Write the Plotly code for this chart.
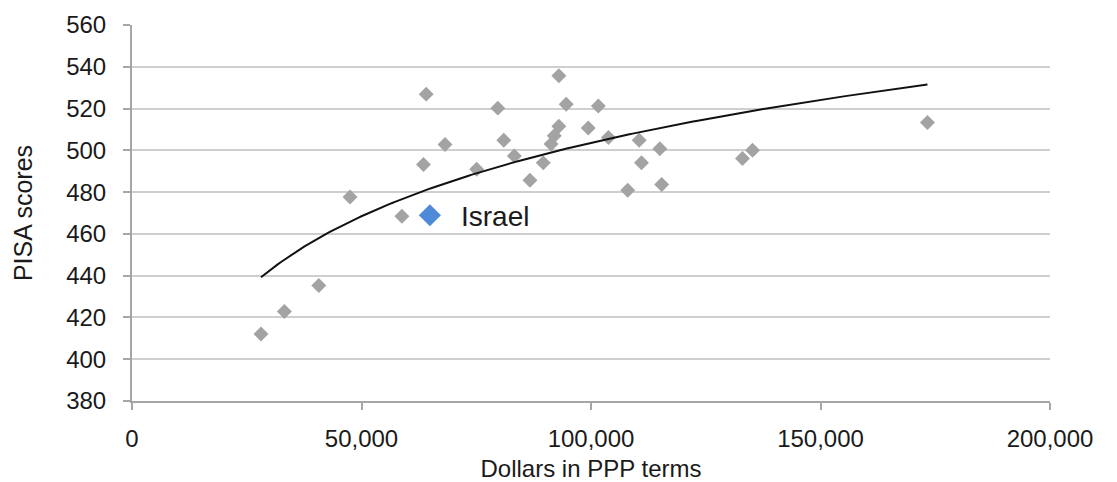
import numpy as np
import plotly.graph_objects as go

# Spending per student (PPP dollars) and PISA scores, OECD countries
spending = [28100, 33200, 40700, 47500, 58800, 63500, 64100, 68200, 75100,
            79700, 81000, 83300, 86700, 89600, 91300, 92000, 93000, 93000,
            94600, 99400, 101600, 103800, 108000, 110500, 111000, 115000,
            115400, 133000, 135200, 173300]
scores = [412.1, 422.8, 435.3, 477.7, 468.4, 493.2, 526.9, 502.8, 490.9,
          520.2, 504.8, 497.3, 485.7, 494.0, 503.0, 507.0, 511.5, 535.7,
          522.1, 510.7, 521.2, 506.1, 480.9, 504.8, 494.1, 500.8,
          483.6, 496.1, 500.0, 513.3]

israel_spending = [64900]
israel_score = [468.9]
israel_label = "Israel"

x_ticks = [0, 50000, 100000, 150000, 200000]
y_ticks = list(range(380, 561, 20))

# Logarithmic trend line fitted to the country data
xs = np.array(spending, dtype=float)
ys = np.array(scores, dtype=float)
b, a = np.polyfit(np.log(xs), ys, 1)
trend_x = np.linspace(xs.min(), xs.max(), 200)
trend_y = a + b * np.log(trend_x)

font_family = "Liberation Sans, Arial, sans-serif"

fig = go.Figure()
fig.add_trace(go.Scatter(
    x=spending, y=scores, mode="markers",
    marker=dict(symbol="diamond", size=11.5, color="#a3a3a3"),
    showlegend=False, hoverinfo="x+y"))
fig.add_trace(go.Scatter(
    x=trend_x, y=trend_y, mode="lines",
    line=dict(color="#111111", width=2),
    showlegend=False, hoverinfo="skip"))
fig.add_trace(go.Scatter(
    x=israel_spending, y=israel_score, mode="markers",
    marker=dict(symbol="diamond", size=17, color="#4f8ad8"),
    showlegend=False, hoverinfo="x+y"))

fig.add_annotation(
    x=israel_spending[0], y=israel_score[0], text=israel_label,
    showarrow=False, xanchor="left", yanchor="middle", xshift=29, yshift=-1,
    font=dict(family=font_family, size=28, color="#1a1a1a"))

fig.update_layout(
    width=1117, height=482,
    margin=dict(l=132, r=67, t=25, b=81),
    paper_bgcolor="white", plot_bgcolor="white",
    font=dict(family=font_family, size=24, color="#1a1a1a"),
    xaxis=dict(
        range=[0, 200000], tickvals=x_ticks, tickformat=",",
        automargin=False,
        showgrid=False, zeroline=False,
        showline=True, linecolor="#a6a6a6", linewidth=2,
        ticks="outside", ticklen=7, tickcolor="#a6a6a6", tickwidth=1.5,
        tickfont=dict(size=24), ticklabelstandoff=8,
        title=dict(text="Dollars in PPP terms", font=dict(size=24), standoff=12)),
    yaxis=dict(
        range=[380, 560], tickvals=y_ticks,
        automargin=False,
        showgrid=True, gridcolor="#cfcfcf", gridwidth=1.5,
        zeroline=False,
        showline=True, linecolor="#a6a6a6", linewidth=2,
        ticks="outside", ticklen=7, tickcolor="#a6a6a6", tickwidth=1.5,
        tickfont=dict(size=24), ticklabelstandoff=12,
        title=dict(text="PISA scores", font=dict(size=25), standoff=26)),
)

fig.write_html("out.html")
